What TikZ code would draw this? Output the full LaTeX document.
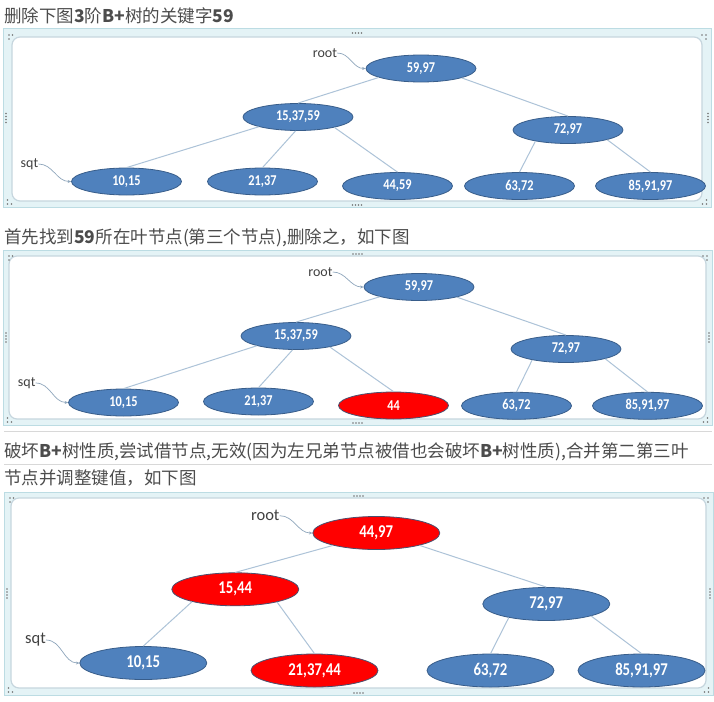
\documentclass[tikz,border=0pt]{standalone}
\usepackage{fontspec}
\setmainfont{Carlito}
\newfontfamily\cjkfont{Noto Sans CJK SC}
\newfontfamily\keyfont[FakeStretch=0.82]{Carlito}
\usetikzlibrary{shapes.geometric, arrows.meta}

\definecolor{keyblue}{HTML}{4F81BD}
\definecolor{keyedge}{HTML}{385D8A}
\definecolor{keyred}{HTML}{FF0000}
\definecolor{rededge}{HTML}{4A4F6E}
\definecolor{linkcol}{HTML}{ADC3D8}
\definecolor{ptrcol}{HTML}{8FA6BC}
\definecolor{framecyan}{HTML}{E4F3F6}
\definecolor{frameline}{HTML}{BCDCE3}
\definecolor{innerline}{HTML}{C6D6DE}
\definecolor{rulegray}{HTML}{D8D8D8}

\tikzset{
    keynode/.style = {shape = ellipse, draw = keyedge, fill = keyblue, line width = 0.8pt,
        minimum width = 110pt, minimum height = 27pt, inner sep = 0pt, text = white,
        font = \keyfont\bfseries\fontsize{15}{16}\selectfont},
    delnode/.style = {keynode, fill = keyred, draw = rededge},
    bignode/.style = {minimum width = 127pt, minimum height = 33pt,
        font = \keyfont\bfseries\fontsize{18}{19}\selectfont},
    link/.style = {draw = linkcol, line width = 1pt},
    ptr/.style = {draw = ptrcol, line width = 0.7pt, -{Stealth[length = 3.5pt, width = 3pt]}},
    ptrlabel/.style = {inner sep = 0pt, text = black!75, font = \fontsize{14}{14}\selectfont},
    caption/.style = {anchor = west, inner sep = 0pt, text = black!70,
        font = \cjkfont\fontsize{17.5}{18}\selectfont},
    handle/.style = {fill = black!55, draw = none}
}

\begin{document}
\begin{tikzpicture}[x = 1pt, y = -1pt]
    \useasboundingbox (0,0) rectangle (714,701);

    % frames round the three pictures
    \foreach \ox/\oy/\px/\py/\ix/\iy/\jx/\jy in
        {3/29/711/207/12/37/702/201, 3/250/712/425/9/256/706/419, 4/492/713/695/11/498/706/688}{
        \draw[fill = framecyan, draw = frameline, line width = 1pt] (\ox,\oy) rectangle (\px,\py);
        \draw[fill = white, draw = innerline, line width = 1.2pt, rounded corners = 8pt] (\ix,\iy) rectangle (\jx,\jy);
        \foreach \d in {-4.5,-1.5,1.5,4.5}{
            \fill[handle] ({(\ox+\px)/2+\d},\oy+4) circle (0.9);
            \fill[handle] ({(\ox+\px)/2+\d},\py-2) circle (0.9);
            \fill[handle] (\ox+3,{(\oy+\py)/2+\d}) circle (0.9);
            \fill[handle] (\px-3,{(\oy+\py)/2+\d}) circle (0.9);
        }
        \fill[handle] (\ox+6,\oy+6) circle (0.9) (\ox+9.5,\oy+6) circle (0.9) (\ox+6,\oy+10) circle (0.9);
        \fill[handle] (\px-9,\oy+6) circle (0.9) (\px-5,\oy+6) circle (0.9) (\px-5,\oy+10) circle (0.9);
        \fill[handle] (\ox+4.5,\py-7) circle (0.9) (\ox+4.5,\py-3) circle (0.9) (\ox+8.5,\py-3) circle (0.9);
        \fill[handle] (\px-4.5,\py-7) circle (0.9) (\px-4.5,\py-3) circle (0.9) (\px-8.5,\py-3) circle (0.9);
    }
    \draw[rulegray] (4,431) -- (712,431);
    \draw[rulegray] (4,464) -- (712,464);

    % texts
    \node[caption] (T1) at (4,16) {删除下图\textbf{3}阶\textbf{B+}树的关键字\textbf{59}};
    \node[caption] (T2) at (4,238) {首先找到\textbf{59}所在叶节点(第三个节点),删除之，如下图};
    \node[caption] (T3) at (4,452) {破坏\textbf{B+}树性质,尝试借节点,无效(因为左兄弟节点被借也会破坏\textbf{B+}树性质),合并第二第三叶};
    \node[caption] (T4) at (4,478) {节点并调整键值，如下图};

    % first tree
    \node[keynode] (R1) at (421,68.5) {59,97};
    \node[keynode] (A1) at (298,117) {15,37,59};
    \node[keynode] (B1) at (568,130) {72,97};
    \node[keynode] (L11) at (126.5,181.5) {10,15};
    \node[keynode] (L12) at (262.5,181.5) {21,37};
    \node[keynode] (L13) at (397.5,186) {44,59};
    \node[keynode] (L14) at (519.5,186) {63,72};
    \node[keynode] (L15) at (650.5,186) {85,91,97};
    \draw[link] (R1.-168) -- (A1.north);
    \draw[link] (R1.-13) -- (B1.north);
    \draw[link] (A1.-166) -- (L11.north);
    \draw[link] (A1.-100) -- (L12.north);
    \draw[link] (A1.-16) -- (L13.north);
    \draw[link] (B1.-161) -- (L14.north);
    \draw[link] (B1.-14) -- (L15.north);
    \node[ptrlabel] (ROOT1) at (325,53) {root};
    \node[ptrlabel] (SQT1) at (29.5,164) {sqt};
    \draw[ptr] (ROOT1.east) to[out = 0, in = 180] (R1.west);
    \draw[ptr] (SQT1.east) to[out = 0, in = 180] (L11.west);

    % second tree
    \node[keynode] (R2) at (419,287) {59,97};
    \node[keynode] (A2) at (296,336) {15,37,59};
    \node[keynode] (B2) at (566,349) {72,97};
    \node[keynode] (L21) at (123.5,402.5) {10,15};
    \node[keynode] (L22) at (258.5,401.5) {21,37};
    \node[delnode] (L23) at (393.5,405.5) {44};
    \node[keynode] (L24) at (516.5,405.8) {63,72};
    \node[keynode] (L25) at (647.5,405.8) {85,91,97};
    \draw[link] (R2.-166) -- (A2.north);
    \draw[link] (R2.-15) -- (B2.north);
    \draw[link] (A2.-166) -- (L21.north);
    \draw[link] (A2.-104) -- (L22.north);
    \draw[link] (A2.-18) -- (L23.north);
    \draw[link] (B2.-162) -- (L24.north);
    \draw[link] (B2.-14) -- (L25.north);
    \node[ptrlabel] (ROOT2) at (320.5,272) {root};
    \node[ptrlabel] (SQT2) at (26.7,383) {sqt};
    \draw[ptr] (ROOT2.east) to[out = 0, in = 180] (R2.west);
    \draw[ptr] (SQT2.east) to[out = 0, in = 180] (L21.west);

    % third tree
    \node[delnode, bignode] (R3) at (376.3,533) {44,97};
    \node[delnode, bignode] (A3) at (235.3,589.3) {15,44};
    \node[keynode, bignode] (B3) at (546.3,604) {72,97};
    \node[keynode, bignode] (L31) at (143.3,663) {10,15};
    \node[delnode, bignode] (L32) at (314.5,670.5) {21,37,44};
    \node[keynode, bignode] (L33) at (490.5,670.5) {63,72};
    \node[keynode, bignode] (L34) at (641.5,670.5) {85,91,97};
    \draw[link] (R3.-164) -- (A3.north);
    \draw[link] (R3.-16) -- (B3.north);
    \draw[link] (A3.-164) -- (L31.north);
    \draw[link] (A3.-17) -- (L32.north);
    \draw[link] (B3.-160) -- (L33.north);
    \draw[link] (B3.-15) -- (L34.north);
    \node[ptrlabel, font = \fontsize{16.5}{17}\selectfont] (ROOT3) at (265.3,515.7) {root};
    \node[ptrlabel, font = \fontsize{16.5}{17}\selectfont] (SQT3) at (35.5,640) {sqt};
    \draw[ptr] (ROOT3.east) to[out = 0, in = 180] (R3.west);
    \draw[ptr] (SQT3.east) to[out = 0, in = 180] (L31.west);
\end{tikzpicture}
\end{document}
